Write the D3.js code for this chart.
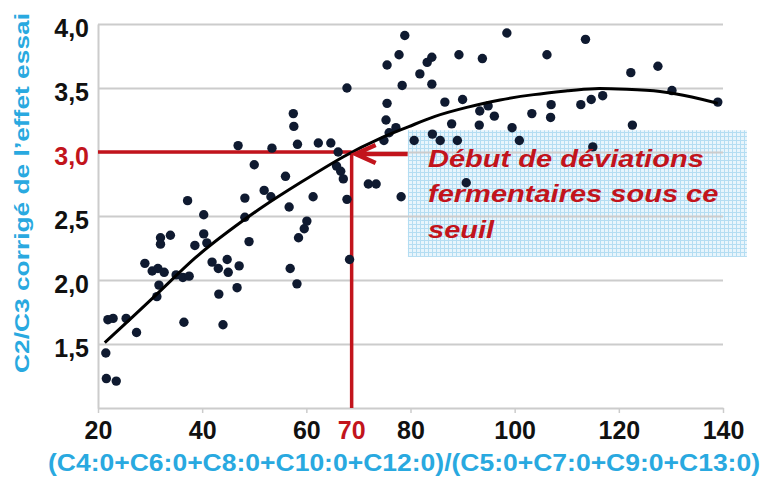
<!DOCTYPE html>
<html>
<head>
<meta charset="utf-8">
<script src="https://cdn.jsdelivr.net/npm/d3@7"></script>
<style>
  body { margin: 0; background: #fff; }
  svg { display: block; font-family: "Liberation Sans", Arial, sans-serif; }
</style>
</head>
<body>
<svg width="762" height="477"></svg>
<script>
// abscissa: (C4:0+...+C12:0)/(C5:0+...+C13:0)
var ratio = [21.5, 21.6, 23.5, 21.9, 22.9, 25.4, 27.4, 29.0, 30.4, 31.5, 32.7, 31.7, 31.3, 32.0, 32.0, 33.9,
  35.0, 36.3, 37.5, 36.5, 37.2, 38.6, 40.3, 40.3, 40.9, 41.9, 43.1, 44.8, 45.0, 47.1, 43.2, 46.7, 44.0,
  46.9, 48.2, 48.2, 49.0, 50.0, 51.9, 53.2, 53.4, 56.0, 56.7, 56.9, 58.2, 58.5, 59.6, 60.1, 57.5, 57.6,
  58.3, 61.3, 62.3, 64.7, 66.1, 65.8, 66.6, 67.1, 67.8, 67.8, 68.3, 71.9, 73.4, 78.2, 74.9, 75.3, 77.2,
  75.9, 75.5, 75.5, 77.8, 78.4, 78.9, 80.7, 81.8, 83.2, 84.1, 84.1, 84.2, 85.7, 86.6, 87.9, 89.0, 89.3,
  90.0, 90.7, 93.3, 93.2, 93.8, 94.9, 96.1, 98.5, 99.5, 100.9, 103.3, 106.2, 107.0, 106.9, 112.7, 113.6,
  114.7, 115.0, 116.9, 122.3, 122.6, 127.5, 130.2, 139.0];
// ordinate: C2/C3 corrigé
var c2c3 = [1.43, 1.23, 1.21, 1.69, 1.70, 1.70, 1.59, 2.13, 2.07, 2.09, 2.06, 1.96, 1.87, 2.33, 2.28, 2.35,
  2.04, 2.02, 2.03, 1.67, 2.62, 2.27, 2.51, 2.36, 2.29, 2.14, 2.09, 2.16, 2.06, 2.11, 1.89, 1.94, 1.65,
  3.05, 2.64, 2.49, 2.30, 2.90, 2.70, 2.65, 3.03, 2.81, 2.57, 2.09, 1.97, 2.33, 2.40, 2.46, 3.30, 3.20,
  3.06, 2.65, 3.07, 3.07, 3.00, 2.89, 2.85, 2.79, 2.63, 3.50, 2.16, 2.75, 2.75, 2.65, 3.09, 3.25, 3.19,
  3.15, 3.38, 3.68, 3.76, 3.52, 3.91, 3.09, 3.61, 3.70, 3.74, 3.53, 3.14, 3.09, 3.39, 3.22, 3.09, 3.76,
  3.41, 2.76, 3.32, 3.21, 3.73, 3.36, 3.28, 3.93, 3.19, 3.09, 3.30, 3.76, 3.37, 3.27, 3.37, 3.88,
  3.41, 3.04, 3.44, 3.62, 3.21, 3.67, 3.48, 3.39];

// trend curve
var trendX = [21.3, 32.2, 38.6, 45.0, 51.4, 58.8, 67.6, 74.1, 79.9, 84.4, 90.8, 97.2, 103.6, 110.6, 115.1, 121.5, 127.9, 134.3, 139.0];
var trendY = [1.51, 1.92, 2.18, 2.38, 2.57, 2.76, 2.98, 3.11, 3.20, 3.28, 3.35, 3.41, 3.45, 3.48, 3.50, 3.49, 3.48, 3.43, 3.38];

var xTicks = [20, 40, 60, 80, 100, 120, 140];
var yTicks = [1.5, 2.0, 2.5, 3.0, 3.5, 4.0];

var seuilX = 68.7, seuilY = 3.0, seuilLabel = "70";
var noteLines = ["Début de déviations", "fermentaires sous ce", "seuil"];
var xTitle = "(C4:0+C6:0+C8:0+C10:0+C12:0)/(C5:0+C7:0+C9:0+C13:0)";
var yTitle = "C2/C3 corrigé de l’effet essai";

var red = "#c2141c", blue = "#29a9e0", grid = "#cccccc";

var svg = d3.select("svg");

var x = d3.scaleLinear().domain([20, 140]).range([98, 723]),
    y = d3.scaleLinear().domain([1, 4]).range([408, 24]);

// hatched note box
var defs = svg.append("defs");
var pat = defs.append("pattern")
    .attr("id", "hatch")
    .attr("width", 4).attr("height", 4)
    .attr("patternUnits", "userSpaceOnUse");
pat.append("rect").attr("width", 4).attr("height", 4).attr("fill", "#e8f5fc");
pat.append("path").attr("d", "M0,0.5H4M0.5,0V4")
    .attr("stroke", "#b4ddf2").attr("stroke-width", 1);

svg.append("rect")
    .attr("x", x(79.5)).attr("y", y(3.17))
    .attr("width", x(144.6) - x(79.5))
    .attr("height", y(2.18) - y(3.17))
    .attr("fill", "url(#hatch)");

// gridlines
svg.append("g")
    .attr("class", "grid")
    .attr("transform", "translate(" + x(20) + ",0)")
    .call(d3.axisLeft(y).tickValues(yTicks).tickSize(-(x(140) - x(20))).tickFormat(""))
    .call(function(g) {
      g.select(".domain").remove();
      g.selectAll("line").attr("stroke", grid).attr("stroke-width", 2);
    });

// y axis
var fmt = function(d) { return d3.format(".1f")(d).replace(".", ","); };
svg.append("g")
    .attr("transform", "translate(" + x(20) + ",0)")
    .call(d3.axisLeft(y).tickValues(yTicks).tickSize(0).tickPadding(9).tickFormat(fmt))
    .call(function(g) {
      g.select(".domain").attr("stroke", grid).attr("stroke-width", 2);
      g.selectAll("text")
          .attr("dy", 0).attr("y", 12)
          .style("font-size", "25px").style("font-weight", "bold")
          .attr("fill", function(d) { return d === seuilY ? red : "#111"; });
    });

// x axis
svg.append("g")
    .attr("transform", "translate(0," + y(1) + ")")
    .call(d3.axisBottom(x).tickValues(xTicks).tickSize(5).tickSizeOuter(0))
    .call(function(g) {
      g.select(".domain").attr("stroke", grid).attr("stroke-width", 2);
      g.selectAll("line").attr("stroke", grid).attr("stroke-width", 1.5);
      g.selectAll("text")
          .attr("dy", 0).attr("y", 31)
          .style("font-size", "25px").style("font-weight", "bold")
          .attr("fill", "#111");
    });

svg.append("text")
    .attr("x", x(seuilX)).attr("y", y(1) + 31)
    .attr("text-anchor", "middle")
    .style("font-size", "25px").style("font-weight", "bold")
    .attr("fill", red)
    .text(seuilLabel);

// threshold lines
svg.append("line")
    .attr("x1", x(20)).attr("x2", x(seuilX))
    .attr("y1", y(seuilY)).attr("y2", y(seuilY))
    .attr("stroke", red).attr("stroke-width", 3.5);
svg.append("line")
    .attr("x1", x(seuilX)).attr("x2", x(seuilX))
    .attr("y1", y(seuilY)).attr("y2", y(1))
    .attr("stroke", red).attr("stroke-width", 3.5);

// points
svg.append("g")
  .selectAll("circle")
    .data(ratio)
  .enter().append("circle")
    .attr("cx", function(d) { return x(d); })
    .attr("cy", function(d, i) { return y(c2c3[i]); })
    .attr("r", 4.7)
    .attr("fill", "#0f1a30");

// trend curve
var line = d3.line()
    .curve(d3.curveBasis)
    .x(function(d) { return x(d); })
    .y(function(d, i) { return y(trendY[i]); });

svg.append("path")
    .attr("d", line(trendX))
    .attr("fill", "none")
    .attr("stroke", "#000")
    .attr("stroke-width", 3);

// arrow
var ax = x(seuilX) + 4, ay = y(seuilY) + 2;
svg.append("path")
    .attr("d", "M" + (ax + 52) + "," + ay + "H" + ax +
               "M" + (ax + 20) + "," + (ay - 9) + "L" + ax + "," + ay + "L" + (ax + 20) + "," + (ay + 9))
    .attr("fill", "none")
    .attr("stroke", red).attr("stroke-width", 4.5)
    .attr("stroke-linejoin", "miter");

// note text
var note = svg.append("g")
    .attr("transform", "translate(428,0) scale(1.21,1)");
note.selectAll("text")
    .data(noteLines)
  .enter().append("text")
    .attr("x", 0)
    .attr("y", function(d, i) { return 167 + i * 35.5; })
    .style("font-size", "24px").style("font-weight", "bold").style("font-style", "italic")
    .attr("fill", red)
    .text(function(d) { return d; });

// axis titles
svg.append("text")
    .attr("x", 404).attr("y", 471)
    .attr("text-anchor", "middle")
    .attr("textLength", 712).attr("lengthAdjust", "spacingAndGlyphs")
    .style("font-size", "23.5px").style("font-weight", "bold")
    .attr("fill", blue)
    .text(xTitle);

svg.append("text")
    .attr("transform", "translate(29,193) rotate(-90)")
    .attr("text-anchor", "middle")
    .attr("textLength", 360).attr("lengthAdjust", "spacingAndGlyphs")
    .style("font-size", "21px").style("font-weight", "bold")
    .attr("fill", blue)
    .text(yTitle);
</script>
</body>
</html>
